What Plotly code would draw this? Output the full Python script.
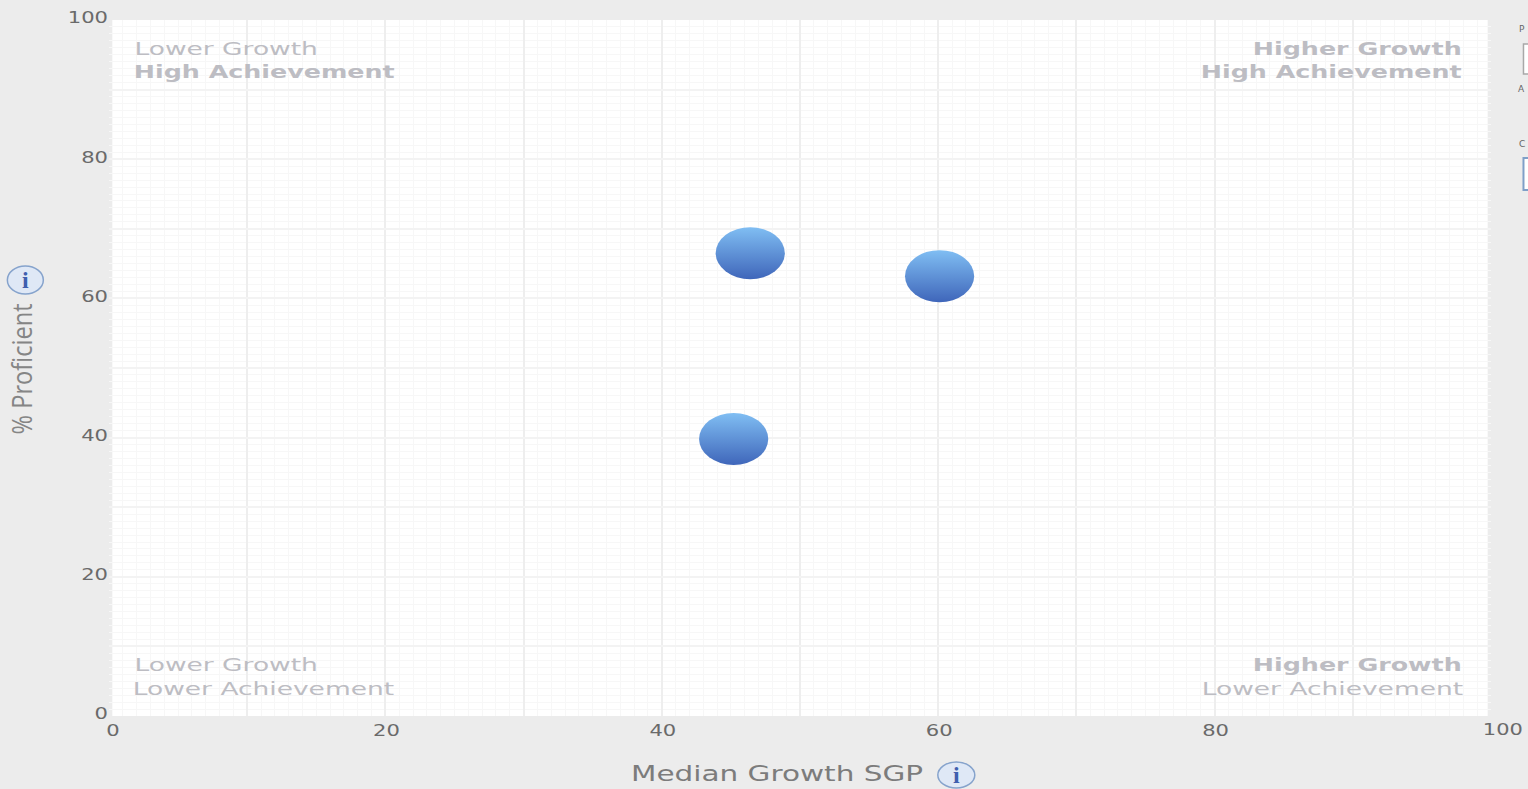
import plotly.graph_objects as go

W, H = 1528, 789
L, R, T, B = 108.7, 1491.5, 20, 716

growth = [46.4, 60.1, 45.2]
proficient = [66.5, 63.2, 39.8]
x_tick_vals = [0, 10, 20, 30, 40, 50, 60, 70, 80, 90]
x_tick_text = ["0", "", "20", "", "40", "", "60", "", "80", ""]
y_tick_vals = [0, 10, 20, 30, 40, 50, 60, 70, 80, 90, 100]
y_tick_text = ["0", "", "20", "", "40", "", "60", "", "80", "", "100"]
x_title = "Median Growth SGP"
y_title = "% Proficient"
quad_text = ["Lower Growth", "High Achievement", "Higher Growth", "High Achievement",
             "Lower Growth", "Lower Achievement", "Higher Growth", "Lower Achievement"]
quad_bold = [False, True, True, True, False, False, True, False]
quad_cx = [225.5, 264, 1357.5, 1332, 225.5, 263.5, 1357.5, 1332.5]
quad_cy = [48, 72, 48, 72, 664, 688, 664, 688]
side_text = ["P", "A", "C"]
side_cy = [29, 89, 144]

def px(x):
    return (x - L) / (R - L)
def py(y):
    return (B - y) / (B - T)

GREY = "#6a6a6a"
FONT = "DejaVu Sans"

fig = go.Figure(go.Scatter(
    x=growth, y=proficient, mode="markers", cliponaxis=False,
    marker=dict(size=52, color="#80bef3", opacity=1, line=dict(width=0),
                gradient=dict(type="vertical", color="#3f66ba")),
    hoverinfo="x+y",
))

annotations = []
for t, b, cx, cy in zip(quad_text, quad_bold, quad_cx, quad_cy):
    annotations.append(dict(
        text=f"<b>{t}</b>" if b else t, x=px(cx), y=py(cy), xref="paper", yref="paper",
        xanchor="center", yanchor="middle", showarrow=False,
        font=dict(family=FONT, size=18.5, color="#bdbdc3")))
annotations.append(dict(text="100", x=px(1504), y=py(730), xref="paper", yref="paper",
                        xanchor="center", yanchor="middle", showarrow=False,
                        font=dict(family=FONT, size=15.5, color=GREY)))
annotations.append(dict(text=x_title, x=px(777), y=py(774), xref="paper", yref="paper",
                        xanchor="center", yanchor="middle", showarrow=False,
                        font=dict(family=FONT, size=21, color="#7c7c7c")))
for ix, iy in [(956.5, 775), (25, 280)]:
    annotations.append(dict(text="<b>i</b>", x=px(ix), y=py(iy), xref="paper", yref="paper",
                            xanchor="center", yanchor="middle", showarrow=False,
                            font=dict(family="Liberation Serif", size=24, color="#3f5fae")))
annotations.append(dict(text=y_title, x=px(21.5), y=py(369), xref="paper", yref="paper",
                        xanchor="center", yanchor="middle", showarrow=False, textangle=-90,
                        font=dict(family="Open Sans", size=27, color="#858585")))
for t, cy in zip(side_text, side_cy):
    annotations.append(dict(text=t, x=px(1527.5), y=py(cy), xref="paper", yref="paper",
                            xanchor="right", yanchor="middle", showarrow=False,
                            font=dict(family=FONT, size=9, color="#666666")))

def box(x0, y0, x1, y1, **kw):
    return dict(type=kw.pop("type", "rect"), xref="paper", yref="paper",
                x0=px(x0), x1=px(x1), y0=py(y1), y1=py(y0), **kw)

shapes = [
    dict(type="rect", xref="x", yref="y", x0=0.24, x1=99.76, y0=0, y1=100, layer="below",
         fillcolor="#ffffff", line=dict(width=0)),
    box(938, 762, 975, 788, type="circle", fillcolor="#dfe8f6", line=dict(color="#86a3cc", width=1.5)),
    box(7, 266, 43, 294, type="circle", fillcolor="#dfe8f6", line=dict(color="#86a3cc", width=1.5)),
    box(1524, 44, 1532, 74, fillcolor="#ffffff", line=dict(color="#a8a8a8", width=1.5)),
    box(1524, 158, 1532, 190, fillcolor="#ffffff", line=dict(color="#7f9fc8", width=2)),
]

fig.update_layout(
    width=W, height=H, autosize=False,
    margin=dict(l=L, r=W - R, t=T, b=H - B, pad=0),
    paper_bgcolor="#ececec", plot_bgcolor="rgba(0,0,0,0)",
    showlegend=False, annotations=annotations, shapes=shapes,
    font=dict(family=FONT, size=15.5, color=GREY),
    xaxis=dict(range=[0, 100], tickmode="array", tickvals=x_tick_vals, ticktext=x_tick_text,
               showgrid=True, gridcolor="#eeeeee", gridwidth=2, zeroline=False, showline=False,
               ticks="",
               minor=dict(dtick=1, showgrid=True, gridcolor="#f7f7f7", gridwidth=1, ticks="")),
    yaxis=dict(range=[0, 100], tickmode="array", tickvals=y_tick_vals, ticktext=y_tick_text,
               showgrid=True, gridcolor="#f3f3f3", gridwidth=1.5, zeroline=False, showline=False,
               ticks="",
               minor=dict(dtick=1, showgrid=True, gridcolor="#f7f7f7", gridwidth=1, ticks="")),
)

post = """
document.body.style.margin = '0';
document.documentElement.style.overflow = 'hidden';
var gd = document.getElementById('{plot_id}');
function stretch(t, w) {
  t.setAttribute('textLength', w);
  t.setAttribute('lengthAdjust', 'spacingAndGlyphs');
}
function nudge(t, dx, dy) {
  t.setAttribute('x', parseFloat(t.getAttribute('x')) + dx);
  t.setAttribute('y', parseFloat(t.getAttribute('y')) + dy);
}
gd.querySelectorAll('.xtick text').forEach(function (t) {
  if (t.textContent) { stretch(t, t.getComputedTextLength() * 1.36); nudge(t, t.textContent === '0' ? 4 : 1, 3); }
});
gd.querySelectorAll('.ytick text').forEach(function (t) {
  if (t.textContent) { stretch(t, t.getComputedTextLength() * 1.36); nudge(t, 0, -2); }
});
gd.querySelectorAll('.annotation-text').forEach(function (t) {
  var s = t.textContent, w = t.getComputedTextLength();
  if (s.length === 1) return;
  if (s === '% Proficient') { stretch(t, 131); return; }
  if (s === 'Median Growth SGP') { stretch(t, 292); return; }
  if (s === '100') { stretch(t, 40); return; }
  stretch(t, w * (t.innerHTML.indexOf('bold') >= 0 ? 1.37 : 1.43));
});
gd.querySelectorAll('.scatterlayer path.point').forEach(function (p) {
  p.setAttribute('transform', p.getAttribute('transform') + ' scale(1.33,1)');
});
"""
fig.write_html("out.html", post_script=post, config={"displayModeBar": False})
